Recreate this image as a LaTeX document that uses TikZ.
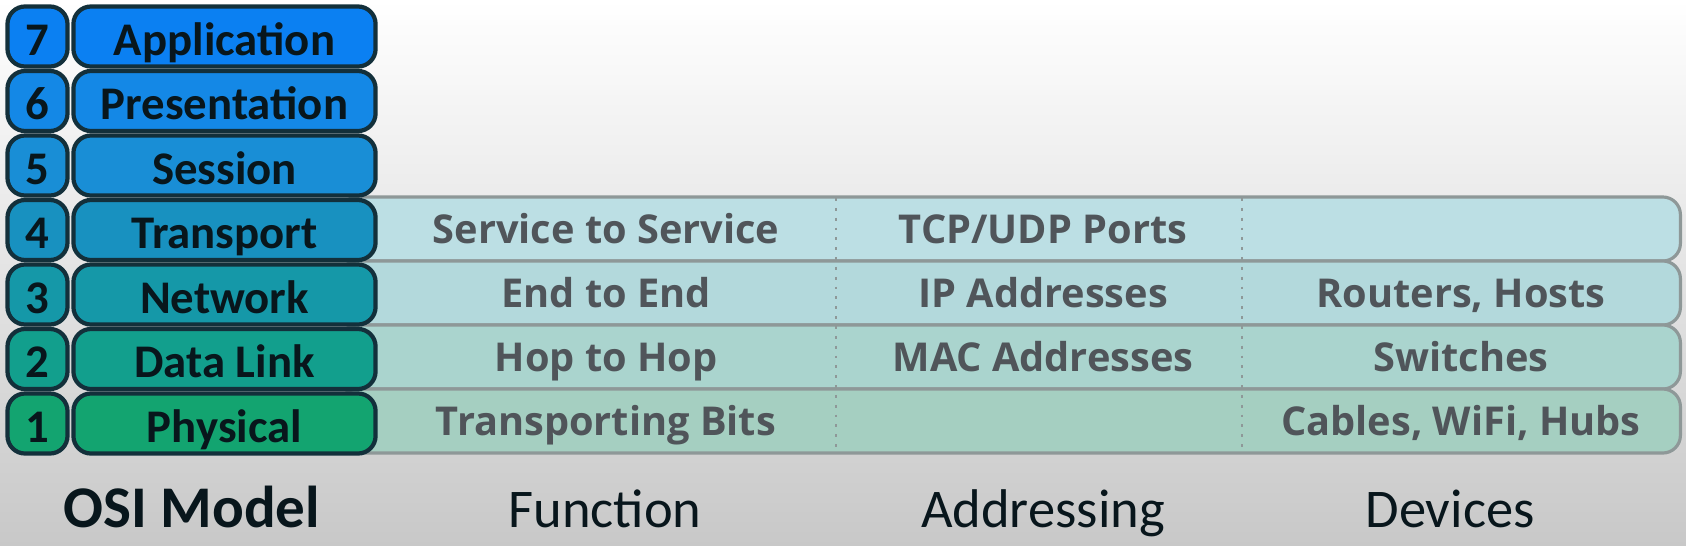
\documentclass[tikz,border=0pt]{standalone}
\usepackage{fontspec}
\setmainfont{Carlito}
\newfontfamily\bandfont{Open Sans}
\usetikzlibrary{positioning}

\definecolor{edge}{HTML}{13303B}
\definecolor{ink}{HTML}{08161C}
\definecolor{bandedge}{HTML}{8E9898}
\definecolor{bandink}{HTML}{50555A}
\definecolor{lseven}{HTML}{0B80F2}
\definecolor{lsix}{HTML}{1488E6}
\definecolor{lfive}{HTML}{198ED6}
\definecolor{lfour}{HTML}{1891C0}
\definecolor{lthree}{HTML}{1598A8}
\definecolor{ltwo}{HTML}{129F8D}
\definecolor{lone}{HTML}{13A470}
\definecolor{bfour}{HTML}{BCDFE4}
\definecolor{bthree}{HTML}{B3D9DC}
\definecolor{btwo}{HTML}{AAD4CE}
\definecolor{bone}{HTML}{A5CFC1}

\tikzset{
  layer/.style={draw=edge, line width=1.2pt, rounded corners=5pt, inner sep=0pt,
    minimum height=0.6cm, text height=10.6pt, text depth=0pt, text=ink,
    font=\bfseries\fontsize{13.3}{14}\selectfont},
  layernum/.style={layer, minimum width=0.6cm},
  layername/.style={layer, minimum width=3.02cm},
  bandrow/.style={draw=bandedge, line width=0.9pt, rounded corners=5pt,
    minimum width=13.4cm, minimum height=0.64cm, inner sep=0pt},
  bandtext/.style={text=bandink, text height=8pt, text depth=0pt,
    font=\bandfont\bfseries\fontsize{11.3}{13}\selectfont},
  caption/.style={anchor=base, inner sep=0pt, text=ink, font=\fontsize{15.5}{18}\selectfont}
}

\begin{document}
\begin{tikzpicture}[x=0.01cm, y=-0.01cm]
  % Background
  \useasboundingbox (0,0) rectangle (1686,545);
  \shade[top color=white, middle color=gray!18, bottom color=gray!43]
    (0,0) rectangle (1686,545);

  % Rows behind the layers
  \node[bandrow, fill=bfour]  (band4) at (1010,229) {};
  \node[bandrow, fill=bthree] (band3) at (1010,293) {};
  \node[bandrow, fill=btwo]   (band2) at (1010,357) {};
  \node[bandrow, fill=bone]   (band1) at (1010,421) {};

  % Column dividers
  \draw[bandedge, dotted, line width=0.8pt] (836,198) -- (836,452);
  \draw[bandedge, dotted, line width=0.8pt] (1242,198) -- (1242,452);

  % Layers
  \node[layernum, fill=lseven] (n7) at (37.5,36.5) {7};
  \node[layername, fill=lseven] (l7) at (224.5,36.5) {Application};
  \node[layernum, fill=lsix] (n6) at (37.5,101) {6};
  \node[layername, fill=lsix] (l6) at (224.5,101) {Presentation};
  \node[layernum, fill=lfive] (n5) at (37.5,165.5) {5};
  \node[layername, fill=lfive] (l5) at (224.5,165.5) {Session};
  \node[layernum, fill=lfour] (n4) at (37.5,230) {4};
  \node[layername, fill=lfour] (l4) at (224.5,230) {Transport};
  \node[layernum, fill=lthree] (n3) at (37.5,294.5) {3};
  \node[layername, fill=lthree] (l3) at (224.5,294.5) {Network};
  \node[layernum, fill=ltwo] (n2) at (37.5,359) {2};
  \node[layername, fill=ltwo] (l2) at (224.5,359) {Data Link};
  \node[layernum, fill=lone] (n1) at (37.5,423.5) {1};
  \node[layername, fill=lone] (l1) at (224.5,423.5) {Physical};

  % Function
  \node[bandtext] (f4) at (606,229) {Service to Service};
  \node[bandtext] (f3) at (606,293) {End to End};
  \node[bandtext] (f2) at (606,357) {Hop to Hop};
  \node[bandtext] (f1) at (606,421) {Transporting Bits};

  % Addressing
  \node[bandtext] (a4) at (1043,229) {TCP/UDP Ports};
  \node[bandtext] (a3) at (1043,293) {IP Addresses};
  \node[bandtext] (a2) at (1043,357) {MAC Addresses};

  % Devices
  \node[bandtext] (d3) at (1461,293) {Routers, Hosts};
  \node[bandtext] (d2) at (1461,357) {Switches};
  \node[bandtext] (d1) at (1461,421) {Cables, WiFi, Hubs};

  % Column titles
  \node[caption, font=\bfseries\fontsize{16.8}{19}\selectfont] (osi) at (192,527) {OSI Model};
  \node[caption] (fun) at (605,527) {Function};
  \node[caption] (adr) at (1043,527) {Addressing};
  \node[caption] (dev) at (1450,527) {Devices};
\end{tikzpicture}
\end{document}
